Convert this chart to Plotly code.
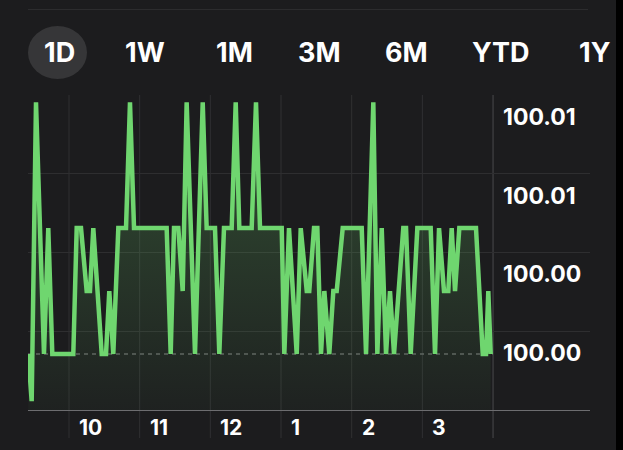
import plotly.graph_objects as go

# ---------------- data ----------------
times = [9.424, 9.472, 9.533, 9.646, 9.707, 9.764, 10.061, 10.109, 10.170, 10.250,
         10.297, 10.344, 10.463, 10.524, 10.570, 10.627, 10.698, 10.807, 10.863, 10.920,
         11.382, 11.439, 11.486, 11.547, 11.609, 11.665, 11.783, 11.892, 11.948, 12.066,
         12.127, 12.193, 12.302, 12.359, 12.410, 12.585, 12.646, 12.703, 13.010, 13.047,
         13.113, 13.222, 13.279, 13.364, 13.400, 13.467, 13.514, 13.566, 13.613, 13.683,
         13.740, 13.788, 13.873, 14.142, 14.203, 14.306, 14.363, 14.425, 14.486, 14.542,
         14.599, 14.730, 14.769, 14.835, 14.929, 15.118, 15.179, 15.236, 15.306, 15.367,
         15.415, 15.462, 15.523, 15.759, 15.854, 15.901, 15.933, 15.967]
prices = [100.000, 99.9985, 100.008, 100.000, 100.004, 100.000, 100.000, 100.004, 100.004, 100.002,
          100.002, 100.004, 100.000, 100.000, 100.002, 100.000, 100.004, 100.004, 100.008, 100.004,
          100.004, 100.000, 100.004, 100.004, 100.002, 100.008, 100.000, 100.008, 100.004, 100.004,
          100.000, 100.004, 100.004, 100.008, 100.004, 100.004, 100.008, 100.004, 100.004, 100.000,
          100.004, 100.000, 100.004, 100.002, 100.002, 100.004, 100.004, 100.000, 100.002, 100.000,
          100.002, 100.002, 100.004, 100.004, 100.000, 100.008, 100.000, 100.004, 100.000, 100.002,
          100.000, 100.004, 100.004, 100.000, 100.004, 100.004, 100.000, 100.004, 100.002, 100.002,
          100.004, 100.002, 100.004, 100.004, 100.000, 100.000, 100.002, 100.000]
prev_close = 100.000
y_tick_vals = [100.00073, 100.00323, 100.00573, 100.00822]
y_tick_text = ["100.00", "100.00", "100.01", "100.01"]
x_tick_vals = [10, 11, 12, 13, 14, 15]
x_tick_text = ["10", "11", "12", "1", "2", "3"]
market_close = 16
tabs = ["1D", "1W", "1M", "3M", "6M", "YTD", "1Y"]

# ---------------- layout helpers (pixel -> paper) ----------------
W, H = 623, 450
L, R, T, B = 28, 590, 95, 410
X_RANGE = [9.420, 17.372]
Y_RANGE = [99.99822, 100.00823]


def xp(px):
    return (px - L) / (R - L)


def yp(py):
    return (B - py) / (B - T)


BG = "#1c1c1e"
GREEN = "#6fd66f"
FONT = "Inter"

fig = go.Figure()
fig.add_trace(go.Scatter(
    x=times, y=prices, mode="lines",
    line=dict(color=GREEN, width=4.5),
    fill="tozeroy",
    fillgradient=dict(type="vertical",
                      colorscale=[[0, "rgba(110,215,110,0.03)"], [1, "rgba(110,215,110,0.27)"]],
                      start=Y_RANGE[0], stop=100.008),
    hoverinfo="skip", showlegend=False,
))

shapes = []
# vertical grid lines (extend below axis)
for h in x_tick_vals:
    shapes.append(dict(type="line", xref="x", yref="paper", x0=h, x1=h,
                       y0=yp(438), y1=1, line=dict(color="#303032", width=1), layer="below"))
shapes.append(dict(type="line", xref="x", yref="paper", x0=market_close, x1=market_close,
                   y0=yp(438), y1=1, line=dict(color="#4a4a4c", width=1), layer="below"))
# previous close dashed line
shapes.append(dict(type="line", xref="x", yref="y", x0=X_RANGE[0], x1=market_close,
                   y0=prev_close, y1=prev_close,
                   line=dict(color="#5e5e60", width=1.5, dash="4px,4px"), layer="below"))
# top separator
shapes.append(dict(type="line", xref="paper", yref="paper", x0=xp(28), x1=xp(588),
                   y0=yp(9.5), y1=yp(9.5), line=dict(color="#2c2c2e", width=1)))
# selected tab pill
shapes.append(dict(type="circle", xref="paper", yref="paper", x0=xp(28), x1=xp(87),
                   y0=yp(79), y1=yp(26), fillcolor="#363638", line=dict(width=0)))
# right black strip
shapes.append(dict(type="rect", xref="paper", yref="paper", x0=xp(616), x1=xp(625),
                   y0=yp(452), y1=yp(-2), fillcolor="#000000", line=dict(width=0)))

annotations = []
tab_x = [59, 145, 234, 319, 406, 501, 595]
for t, px in zip(tabs, tab_x):
    annotations.append(dict(text=t, xref="paper", yref="paper", x=xp(px), y=yp(52),
                            xanchor="center", yanchor="middle", showarrow=False,
                            font=dict(family=FONT, size=27, color="#ffffff", weight=700)))
for v, t in zip(y_tick_vals, y_tick_text):
    annotations.append(dict(text=t, xref="paper", yref="y", x=xp(501), y=v,
                            xanchor="left", yanchor="middle", yshift=-22, showarrow=False,
                            font=dict(family=FONT, size=23, color="#ffffff", weight=700)))
for h, t in zip(x_tick_vals, x_tick_text):
    annotations.append(dict(text=t, xref="x", yref="paper", x=h, y=yp(427),
                            xanchor="left", yanchor="middle", xshift=8, showarrow=False,
                            font=dict(family=FONT, size=21, color="#ffffff", weight=700)))

fig.update_layout(
    width=W, height=H,
    margin=dict(l=L, r=W - R, t=T, b=H - B, pad=0),
    paper_bgcolor=BG, plot_bgcolor=BG,
    xaxis=dict(range=X_RANGE, tickvals=x_tick_vals, showticklabels=False, ticks="",
               showgrid=False, zeroline=False, showline=True, linecolor="#6d6d70",
               linewidth=1, fixedrange=True),
    yaxis=dict(range=Y_RANGE, tickvals=y_tick_vals, showticklabels=False, ticks="",
               showgrid=True, gridcolor="#2e2e30", gridwidth=1, zeroline=False,
               showline=False, fixedrange=True),
    shapes=shapes, annotations=annotations, showlegend=False,
)

fig.write_html("out.html", config={"displayModeBar": False})
